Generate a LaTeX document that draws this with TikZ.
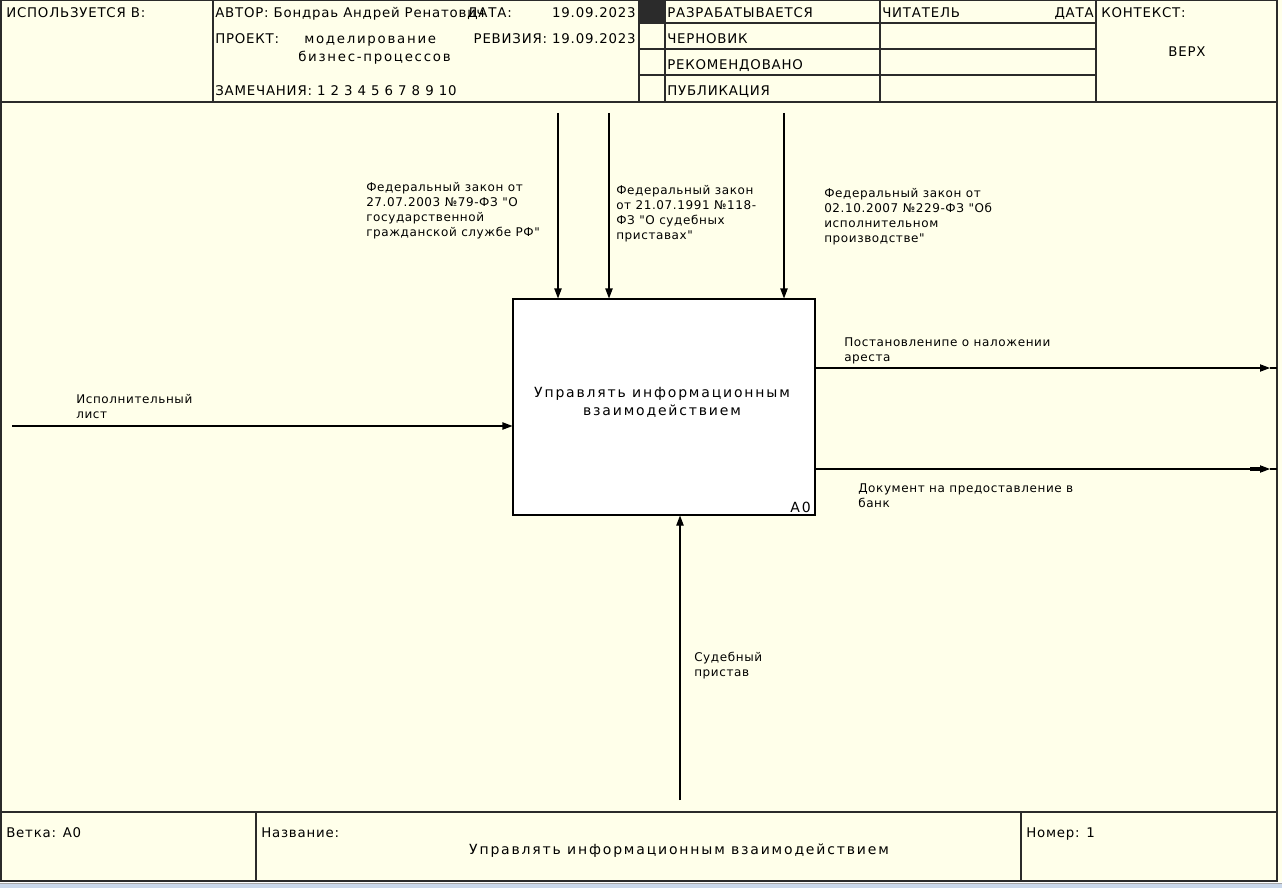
\documentclass[tikz,border=0pt]{standalone}
\usepackage{fontspec}
\setmainfont{DejaVu Sans}
\newfontfamily\hdrfont[LetterSpace=6]{DejaVu Sans}
\newfontfamily\lblfont[LetterSpace=5]{DejaVu Sans}
\newfontfamily\bxfont[LetterSpace=13]{DejaVu Sans}
\usetikzlibrary{arrows.meta}
\definecolor{bg}{HTML}{FFFFEA}
\definecolor{frm}{HTML}{2B2B2B}
\definecolor{strip}{HTML}{C9D7EA}
\tikzset{
  hd/.style={font=\hdrfont\fontsize{10}{12}\selectfont, anchor=base west, inner sep=0pt},
  hde/.style={hd, anchor=base east},
  hdw/.style={font=\bxfont\fontsize{10}{12}\selectfont, anchor=base west, inner sep=0pt},
  lb/.style={font=\lblfont\fontsize{9}{11.25}\selectfont, anchor=north west, align=left, inner sep=0pt},
  fline/.style={draw=frm, line width=1pt},
  arr/.style={draw=black, line width=0.8pt, -{Triangle[length=7.5pt,width=5.5pt]}},
  plain/.style={draw=black, line width=0.8pt},
  funcbox/.style={draw=black, fill=white, line width=0.8pt, minimum width=226.5pt, minimum height=162pt, inner sep=0pt},
  functext/.style={font=\bxfont\fontsize{10.5}{13.5}\selectfont, align=center, inner sep=0pt}
}
\begin{document}
\begin{tikzpicture}[x=0.75pt,y=-0.75pt]
\useasboundingbox (0,0) rectangle (1282,888);
\fill[bg] (0,0) rectangle (1282,882);
\fill[strip] (0,883) rectangle (1282,888);
\draw[gray!70, line width=0.6pt] (0,883.5) -- (1282,883.5);
% header frame
\draw[fline] (1,0.5) -- (1277,0.5);
\draw[fline] (1,0) -- (1,882);
\draw[fline] (1277,0) -- (1277,882);
\draw[fline, line width=1.3pt] (1,102) -- (1277,102);
\draw[fline] (213,0) -- (213,102);
\draw[fline] (639,0) -- (639,102);
\draw[fline] (665,0) -- (665,102);
\draw[fline] (880,0) -- (880,102);
\draw[fline] (1096,0) -- (1096,102);
\draw[fline] (639,23) -- (1096,23);
\draw[fline] (639,49) -- (1096,49);
\draw[fline] (639,75) -- (1096,75);
\fill[frm] (639,0) rectangle (665,23);
% header texts
\node[hd] (used) at (6,18) {ИСПОЛЬЗУЕТСЯ В:};
\node[hd] (author) at (215,18) {АВТОР: Бондраь Андрей Ренатович};
\node[hd] (date) at (467,18) {ДАТА:};
\node[hde] (dateval) at (636,18) {19.09.2023};
\node[hd] (proj) at (215,44) {ПРОЕКТ:};
\node[hdw] (projname1) at (304,44) {моделирование};
\node[hdw] (projname2) at (298,62) {бизнес-процессов};
\node[hde] (rev) at (636,44) {РЕВИЗИЯ: 19.09.2023};
\node[hd] (notes) at (215,96) {ЗАМЕЧАНИЯ: 1 2 3 4 5 6 7 8 9 10};
\node[hd] (st1) at (667,18) {РАЗРАБАТЫВАЕТСЯ};
\node[hd] (st2) at (667,44) {ЧЕРНОВИК};
\node[hd] (st3) at (667,70) {РЕКОМЕНДОВАНО};
\node[hd] (st4) at (667,96) {ПУБЛИКАЦИЯ};
\node[hd] (reader) at (882,18) {ЧИТАТЕЛЬ};
\node[hde] (rdate) at (1094,18) {ДАТА};
\node[hd] (ctx) at (1101,18) {КОНТЕКСТ:};
\node[hd, anchor=base] (top) at (1187,57) {ВЕРХ};
% bottom frame
\draw[fline, line width=1.5pt] (1,812) -- (1277,812);
\draw[fline, line width=1.3pt] (1,881) -- (1277,881);
\draw[fline] (256,812) -- (256,881);
\draw[fline] (1021,812) -- (1021,881);
\node[hd] (node) at (6,837) {Ветка: А0};
\node[hd] (title) at (261,837) {Название:};
\node[hdw, anchor=base, font=\bxfont\fontsize{10.5}{12}\selectfont] (titletext) at (679,854) {Управлять информационным взаимодействием};
\node[hd] (num) at (1026,837) {Номер: 1};
% function box
\node[funcbox] (A0) at (664,407) {};
\node[functext] (A0t) at (662,402) {Управлять информационным\\взаимодействием};
\node[font=\bxfont\fontsize{10.5}{12}\selectfont, anchor=base east, inner sep=0pt] (A0id) at (811,512) {А0};
% arrow ends
\coordinate (c1) at (558,113);
\coordinate (c2) at (609,113);
\coordinate (c3) at (784,113);
\coordinate (in1) at (12,426);
\coordinate (m1) at (680,800);
\coordinate (o1) at (1270,368);
\coordinate (o1b) at (1277,368);
\coordinate (o2) at (1270,469);
\coordinate (o2b) at (1277,469);
\draw[arr] (c1) -- (c1 |- A0.north);
\draw[arr] (c2) -- (c2 |- A0.north);
\draw[arr] (c3) -- (c3 |- A0.north);
\draw[arr] (in1) -- (in1 -| A0.west);
\draw[arr] (m1) -- (m1 |- A0.south);
\draw[arr] (o1 -| A0.east) -- (o1);
\draw[plain] (o1) -- (o1b);
\draw[arr] (o2 -| A0.east) -- (o2);
\draw[plain] (o2) -- (o2b);
\draw[line width=2.5pt] (1250,469) -- (1262,469);
% labels
\node[lb] (lc1) at (366,182) {Федеральный закон от\\27.07.2003 №79-ФЗ "О\\государственной\\гражданской службе РФ"};
\node[lb] (lc2) at (616,185) {Федеральный закон\\от 21.07.1991 №118-\\ФЗ "О судебных\\приставах"};
\node[lb] (lc3) at (824,188) {Федеральный закон от\\02.10.2007 №229-ФЗ "Об\\исполнительном\\производстве"};
\node[lb] (lo1) at (844,337) {Постановленипе о наложении\\ареста};
\node[lb] (lo2) at (858,483) {Документ на предоставление в\\банк};
\node[lb] (li1) at (76,394) {Исполнительный\\лист};
\node[lb] (lm1) at (694,652) {Судебный\\пристав};
\end{tikzpicture}
\end{document}
